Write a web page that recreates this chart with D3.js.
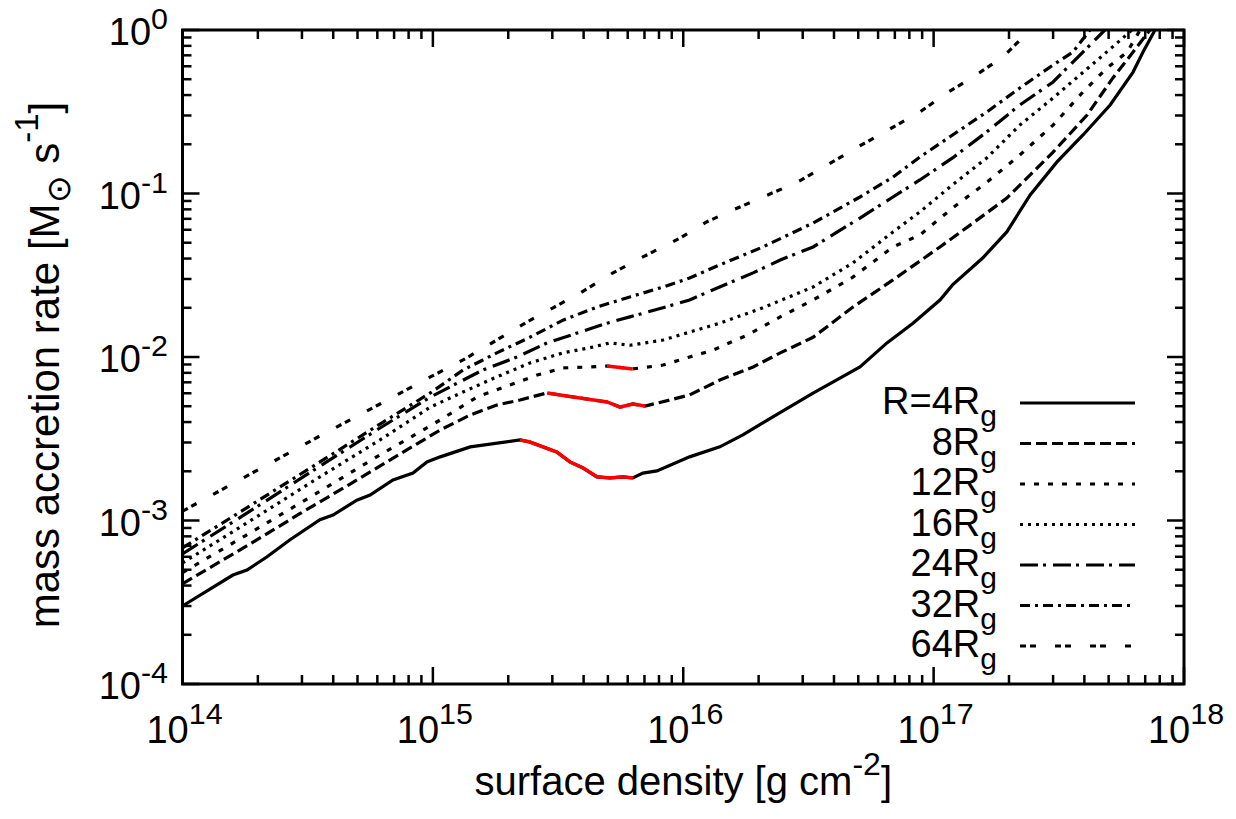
<!DOCTYPE html>
<html><head><meta charset="utf-8">
<script src="https://cdn.jsdelivr.net/npm/d3@7"></script>
<style>
body{margin:0;background:#fff}
text{font-family:"Liberation Sans",Arial,Helvetica,sans-serif;fill:#000}
</style>
</head><body>
<svg id="chart" width="1236" height="819"></svg>
<script>
// ---------------- data ----------------
const seriesNames = ["R=4", "8", "12", "16", "24", "32", "64"];
const xTickExponents = ["14", "15", "16", "17", "18"];
const yTickExponents = ["-4", "-3", "-2", "-1", "0"];

// [surface density (g cm^-2), mass accretion rate (Msun s^-1)]
const r4 = [[1.00e14,3.00e-4],[1.59e14,4.64e-4],[1.81e14,4.98e-4],[2.17e14,5.98e-4],[2.68e14,7.60e-4],
  [3.54e14,1.01e-3],[3.99e14,1.08e-3],[4.97e14,1.33e-3],[5.61e14,1.43e-3],[6.93e14,1.77e-3],[8.33e14,1.95e-3],
  [9.47e14,2.28e-3],[1.07e15,2.45e-3],[1.41e15,2.82e-3],[2.23e15,3.11e-3],[2.44e15,3.02e-3],[3.13e15,2.62e-3],
  [3.53e15,2.28e-3],[3.97e15,2.10e-3],[4.52e15,1.85e-3],[5.10e15,1.82e-3],[5.74e15,1.85e-3],[6.29e15,1.82e-3],
  [6.90e15,1.95e-3],[7.85e15,2.01e-3],[1.06e16,2.45e-3],[1.40e16,2.82e-3],[1.73e16,3.34e-3],[2.28e16,4.30e-3],
  [3.30e16,6.02e-3],[5.08e16,8.69e-3],[6.51e16,1.22e-2],[8.27e16,1.61e-2],[1.06e17,2.23e-2],[1.19e17,2.76e-2],
  [1.57e17,4.03e-2],[1.96e17,5.82e-2],[2.43e17,9.80e-2],[3.11e17,0.156],[3.95e17,0.228],[5.07e17,0.348],
  [6.26e17,0.553],[6.86e17,0.733],[7.66e17,1.0]];
const r8 = [[1.00e14,4.10e-4],[1.86e14,7.18e-4],[2.94e14,1.10e-3],[4.67e14,1.67e-3],[7.39e14,2.55e-3],
  [1.07e15,3.58e-3],[1.41e15,4.42e-3],[1.80e15,5.08e-3],[2.23e15,5.46e-3],[2.86e15,6.03e-3],[3.63e15,5.69e-3],
  [4.96e15,5.31e-3],[5.59e15,4.94e-3],[6.29e15,5.16e-3],[7.03e15,5.01e-3],[8.85e15,5.46e-3],[1.06e16,5.86e-3],
  [1.40e16,7.23e-3],[1.90e16,8.69e-3],[2.44e16,1.06e-2],[3.30e16,1.32e-2],[4.76e16,2.02e-2],[6.88e16,2.96e-2],
  [1.06e17,4.71e-2],[1.40e17,6.41e-2],[1.96e17,9.38e-2],[3.00e17,0.179],[4.10e17,0.302],[5.20e17,0.509],
  [6.26e17,0.733],[7.31e17,1.0]];
const r12 = [[1.00e14,4.80e-4],[1.86e14,8.39e-4],[3.54e14,1.51e-3],[6.15e14,2.52e-3],[1.07e15,4.12e-3],
  [1.50e15,5.69e-3],[2.03e15,6.74e-3],[2.61e15,7.76e-3],[3.31e15,8.57e-3],[4.24e15,8.69e-3],[4.96e15,8.81e-3],
  [6.29e15,8.45e-3],[8.30e15,8.93e-3],[1.06e16,1.00e-2],[1.31e16,1.10e-2],[1.80e16,1.36e-2],[2.44e16,1.76e-2],
  [3.30e16,2.23e-2],[4.76e16,3.08e-2],[6.88e16,4.71e-2],[8.81e16,5.57e-2],[1.19e17,8.15e-2],[1.63e17,0.117],
  [2.21e17,0.172],[3.00e17,0.262],[3.95e17,0.418],[4.93e17,0.586],[5.93e17,0.733],[6.68e17,1.0]];
const r16 = [[1.00e14,5.50e-4],[1.86e14,9.93e-4],[3.54e14,1.85e-3],[6.15e14,3.11e-3],[9.77e14,4.94e-3],
  [1.32e15,6.11e-3],[1.80e15,7.55e-3],[2.44e15,9.19e-3],[3.31e15,1.06e-2],[4.24e15,1.14e-2],[5.10e15,1.22e-2],
  [6.12e15,1.18e-2],[8.30e15,1.27e-2],[1.06e16,1.42e-2],[1.40e16,1.61e-2],[2.08e16,2.00e-2],[3.30e16,2.68e-2],
  [4.76e16,3.76e-2],[6.88e16,5.82e-2],[8.81e16,7.71e-2],[1.19e17,0.113],[1.63e17,0.165],[2.21e17,0.262],
  [3.00e17,0.384],[3.84e17,0.531],[4.61e17,0.674],[6.20e17,1.0]];
const r24 = [[1.00e14,6.25e-4],[1.86e14,1.14e-3],[3.54e14,2.15e-3],[6.15e14,3.68e-3],[9.77e14,5.69e-3],
  [1.58e15,8.32e-3],[2.17e15,1.00e-2],[2.86e15,1.22e-2],[3.87e15,1.42e-2],[4.96e15,1.61e-2],[6.12e15,1.76e-2],
  [8.30e15,2.00e-2],[1.06e16,2.23e-2],[1.31e16,2.57e-2],[1.90e16,3.27e-2],[2.44e16,3.92e-2],[3.30e16,4.71e-2],
  [5.08e16,7.08e-2],[6.88e16,9.52e-2],[8.81e16,0.121],[1.19e17,0.165],[1.63e17,0.238],[2.21e17,0.348],
  [3.00e17,0.481],[3.60e17,0.637],[4.21e17,0.809],[4.83e17,1.0]];
const r32 = [[1.00e14,6.80e-4],[1.86e14,1.23e-3],[3.54e14,2.28e-3],[6.15e14,3.89e-3],[9.77e14,6.03e-3],
  [1.32e15,8.32e-3],[1.80e15,1.06e-2],[2.44e15,1.32e-2],[3.31e15,1.68e-2],[4.52e15,2.02e-2],[6.12e15,2.33e-2],
  [8.30e15,2.68e-2],[1.06e16,3.04e-2],[1.40e16,3.66e-2],[2.08e16,4.71e-2],[3.30e16,6.60e-2],[5.08e16,9.52e-2],
  [6.88e16,0.126],[8.81e16,0.167],[1.19e17,0.228],[1.63e17,0.315],[2.21e17,0.442],[3.00e17,0.611],
  [3.60e17,0.733],[4.21e17,1.0]];
const r64 = [[1.00e14,1.14e-3],[1.86e14,1.92e-3],[3.54e14,3.29e-3],[6.15e14,5.16e-3],[9.77e14,7.55e-3],
  [1.32e15,9.59e-3],[1.80e15,1.27e-2],[2.38e15,1.64e-2],[3.02e15,2.00e-2],[3.87e15,2.46e-2],[5.24e15,3.27e-2],
  [6.53e15,3.92e-2],[9.71e15,5.34e-2],[1.24e16,6.70e-2],[1.58e16,7.93e-2],[2.08e16,9.52e-2],[2.85e16,0.117],
  [3.75e16,0.149],[4.76e16,0.185],[8.81e16,0.315],[1.13e17,0.412],[1.44e17,0.516],[1.89e17,0.684],[2.43e17,1.0]];

// surface-density ranges highlighted in red
const redRanges = [[2.23e15, 6.29e15], [2.86e15, 7.03e15], [4.96e15, 6.29e15], null, null, null, null];

// ---------------- layout ----------------
const svg = d3.select("#chart");
const L = 182.5, R = 1184, T = 30, B = 684;
const FS = 38;
const x = d3.scaleLog().domain([1e14, 1e18]).range([L, R]);
const y = d3.scaleLog().domain([1e-4, 1]).range([B, T]);

const allSeries = [r4, r8, r12, r16, r24, r32, r64];
const dashes = [null, "11,5", "5,9", "3,5", "18,5,3,7", "10,5,3,5", "6,4,6,19"];

svg.append("clipPath").attr("id", "clip").append("rect")
  .attr("x", L).attr("y", T).attr("width", R - L).attr("height", B - T);

const line = d3.line().x(d => x(d[0])).y(d => y(d[1]));
const g = svg.append("g").attr("clip-path", "url(#clip)");

allSeries.forEach((s, i) => {
  g.append("path").attr("d", line(s)).attr("fill", "none").attr("stroke", "#000")
    .attr("stroke-width", 3.2).attr("stroke-dasharray", dashes[i]);
});
allSeries.forEach((s, i) => {
  const rr = redRanges[i];
  if (!rr) return;
  const seg = s.filter(d => d[0] >= rr[0] * 0.999 && d[0] <= rr[1] * 1.001);
  g.append("path").attr("d", line(seg)).attr("fill", "none").attr("stroke", "#ff0000")
    .attr("stroke-width", 3.5);
});

// ---------------- axes (ticks inward, mirrored) ----------------
const ax = svg.append("g").attr("stroke", "#000").attr("stroke-width", 2.5);
x.ticks().forEach(v => {
  const major = Math.abs(Math.log10(v) - Math.round(Math.log10(v))) < 1e-9;
  const len = major ? 17 : 9;
  const px = x(v);
  ax.append("line").attr("x1", px).attr("x2", px).attr("y1", B).attr("y2", B - len);
  ax.append("line").attr("x1", px).attr("x2", px).attr("y1", T).attr("y2", T + len);
});
y.ticks().forEach(v => {
  const major = Math.abs(Math.log10(v) - Math.round(Math.log10(v))) < 1e-9;
  const len = major ? 17 : 9;
  const py = y(v);
  ax.append("line").attr("y1", py).attr("y2", py).attr("x1", L).attr("x2", L + len);
  ax.append("line").attr("y1", py).attr("y2", py).attr("x1", R).attr("x2", R - len);
});
svg.append("rect").attr("x", L).attr("y", T).attr("width", R - L).attr("height", B - T)
  .attr("fill", "none").attr("stroke", "#000").attr("stroke-width", 3);

// tick labels
xTickExponents.forEach(e => {
  const t = svg.append("text").attr("x", x(Math.pow(10, +e)) + 2).attr("y", 743)
    .attr("text-anchor", "middle").attr("font-size", FS);
  t.append("tspan").text("10");
  t.append("tspan").attr("dy", -19).attr("font-size", FS * 0.8).text(e);
});
yTickExponents.forEach(e => {
  const t = svg.append("text").attr("x", 168).attr("y", y(Math.pow(10, +e)) + 15)
    .attr("text-anchor", "end").attr("font-size", FS);
  t.append("tspan").text("10");
  t.append("tspan").attr("dy", -16).attr("font-size", FS * 0.8).text(e);
});

// axis titles
const xt = svg.append("text").attr("x", (L + R) / 2).attr("y", 795)
  .attr("text-anchor", "middle").attr("font-size", 40);
xt.append("tspan").text("surface density [g cm");
xt.append("tspan").attr("dy", -20).attr("font-size", 32).text("-2");
xt.append("tspan").attr("dy", 20).text("]");

const yt = svg.append("text").attr("transform", `translate(59,${(T + B) / 2 + 8}) rotate(-90)`)
  .attr("text-anchor", "middle").attr("font-size", 42);
yt.append("tspan").text("mass accretion rate [M");
yt.append("tspan").attr("dy", 11).attr("font-size", 33).text("\u2299");
yt.append("tspan").attr("dy", -11).text(" s");
yt.append("tspan").attr("dy", -21).attr("font-size", 33).text("-1");
yt.append("tspan").attr("dy", 21).text("]");

// ---------------- legend ----------------
const legY0 = 403, legDy = 40.5;
seriesNames.forEach((n, i) => {
  const cy = legY0 + i * legDy;
  const t = svg.append("text").attr("x", 997).attr("y", cy + 11)
    .attr("text-anchor", "end").attr("font-size", 38);
  t.append("tspan").text(n + "R");
  t.append("tspan").attr("dy", 12).attr("font-size", 30).text("g");
  svg.append("line").attr("x1", 1020).attr("x2", 1135).attr("y1", cy).attr("y2", cy)
    .attr("stroke", "#000").attr("stroke-width", 3.2).attr("stroke-dasharray", dashes[i]);
});
</script>
</body></html>
